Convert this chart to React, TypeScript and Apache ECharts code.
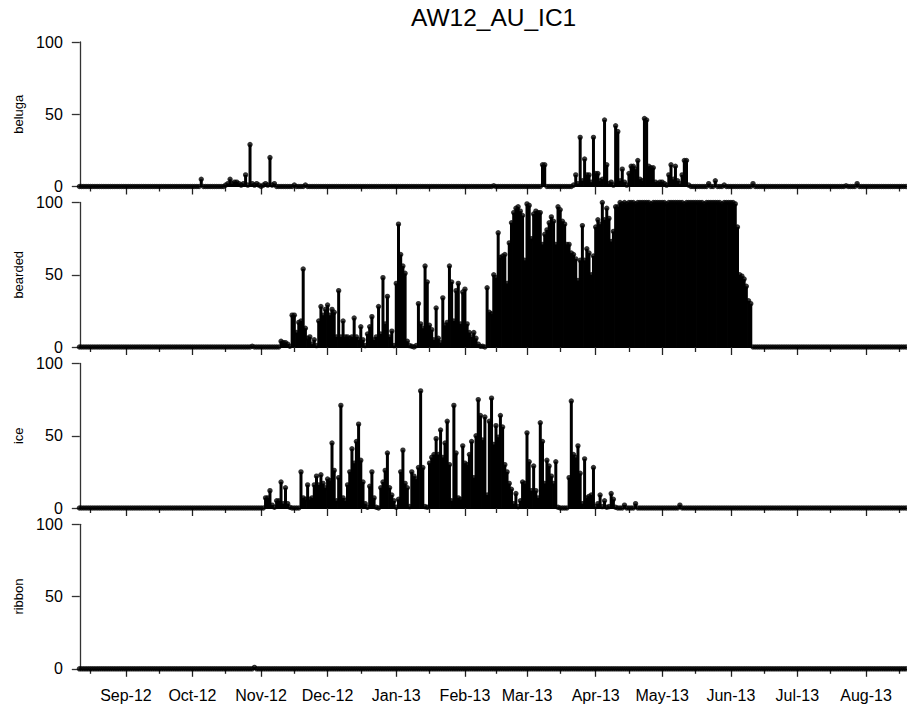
import React, { useEffect, useRef } from "react";
import * as echarts from "echarts";

const TITLE = "AW12_AU_IC1";
const SPECIES = ["beluga", "bearded", "ice", "ribbon"];
const RECORD_START = "2012-08-11";
const RECORD_END = "2013-08-19";
const Y_TICKS = [0, 50, 100];
const MONTH_ABBR = ["Jan", "Feb", "Mar", "Apr", "May", "Jun", "Jul", "Aug", "Sep", "Oct", "Nov", "Dec"];

// Daily detection values (% of day). Each window: start date + consecutive daily values.
// Days outside the windows are 0 (recorded, no detection).
const belugaFall = {
  start: "2012-10-05",
  values: [5, 0, 0, 0, 0, 0, 0, 0, 0, 0, 0, 1, 2, 5, 2, 3, 3, 2, 1, 2, 8, 1, 29, 2, 1, 2, 1, 0, 1, 2, 1, 20, 1, 2, 0, 0, 0, 0, 0, 0, 0, 0, 1, 0, 0, 0, 0, 1],
};
const belugaSpring = {
  start: "2013-03-08",
  values: [15, 15, 0, 0, 0, 0, 0, 0, 0, 0, 0, 0, 0, 0, 1, 8, 2, 34, 4, 19, 8, 8, 3, 34, 9, 9, 4, 5, 46, 15, 2, 3, 1, 42, 38, 4, 12, 3, 1, 9, 14, 14, 12, 18, 5, 4, 47, 46, 14, 13, 13, 3, 2, 3, 3, 2, 1, 8, 15, 5, 14, 4, 2, 8, 18, 18, 1, 0, 0, 0, 0, 0, 0, 0, 0, 2, 0, 0, 4, 0, 0, 0, 1],
};
const belugaOther = [
  { start: "2013-02-14", values: [0.5] },
  { start: "2013-06-11", values: [2] },
  { start: "2013-07-23", values: [0.5] },
  { start: "2013-07-28", values: [2] },
];

const beardedEarly = { start: "2012-10-28", values: [0.5] };
const beardedSeason = {
  start: "2012-11-10",
  values: [
    4, 3, 3, 2, 0.5, 22, 22, 10, 17, 18, 54, 13, 6, 7, 2, 5, 1, 18, 28, 22, 26, 29, 22, 26, 24, 7, 39, 7, 18, 7,
    7, 6, 7, 20, 7, 5, 14, 5, 1, 9, 14, 21, 5, 7, 28, 9, 48, 16, 35, 7, 11, 1, 44, 85, 64, 56, 51, 4, 1, 0.5,
    0, 1, 30, 16, 13, 56, 45, 15, 12, 5, 27, 6, 3, 34, 15, 17, 56, 45, 18, 39, 44, 16, 38, 40, 16, 10, 7, 10, 6, 2,
    0.5, 0.5, 0,
    41, 24, 23, 50, 48, 79, 62, 63, 64, 44, 72, 86, 93, 96, 97, 94, 91, 60, 99, 98, 75, 92, 94, 93, 93, 71, 78, 81, 86, 90,
    87, 71, 97, 95, 87, 85, 71, 71, 65, 64, 61, 46, 60, 84, 60, 68, 65, 50, 63, 83, 88, 85, 100, 88, 96, 89, 73, 80, 97, 97,
    100, 99,
    100, 99, 100, 100, 100, 99, 100, 100, 100, 100, 100, 100, 99, 100, 100, 100, 100, 100, 100, 99,
    100, 100, 100, 100, 100, 100, 100, 99, 100, 100, 100, 100, 100, 100, 100, 100, 99, 100, 100, 100,
    100, 100, 100, 100, 99, 100, 100, 100, 100, 100,
    99, 83, 50, 49, 47, 42, 32, 30,
  ],
};

const iceSeason = {
  start: "2012-11-03",
  values: [
    7, 7, 12, 2, 0.5, 5, 5, 18, 3, 14, 3, 0.5, 0, 0, 0, 0, 25, 7, 6, 16, 6, 7, 16, 22, 16, 23, 17, 14, 20, 19,
    45, 26, 5, 21, 71, 7, 5, 16, 25, 41, 31, 46, 58, 33, 18, 3, 0.5, 15, 25, 7, 0.5, 0, 14, 18, 26, 38, 14, 9, 5, 0.5,
    6, 25, 40, 17, 14, 1, 25, 22, 20, 28, 81, 28, 1, 0.5, 31, 35, 37, 48, 37, 54, 35, 45, 60, 30, 5, 71, 38, 7, 6, 43,
    31, 30, 37, 46, 21, 50, 75, 64, 47, 63, 9, 60, 76, 44, 57, 49, 64, 56, 30, 25, 17, 13, 3, 10, 1, 5, 18, 17, 52, 32,
    12, 29, 12, 7, 59, 46, 17, 33, 29, 22, 17, 32, 0.5, 0, 0, 0, 0, 21, 74, 37, 35, 43, 24, 3, 34, 7, 8, 9, 28, 1,
    3, 9, 1, 5, 0.5, 1, 10, 6, 0.5, 0, 0, 0, 2, 0, 0, 0, 0, 3,
  ],
};
const iceOther = [{ start: "2013-05-09", values: [2] }];

const ribbonDetections = [{ start: "2012-10-29", values: [1] }];

const SPECIES_WINDOWS = [
  [belugaFall, belugaSpring, ...belugaOther],
  [beardedEarly, beardedSeason],
  [iceSeason, ...iceOther],
  ribbonDetections,
];

const FONT = "'Liberation Sans', Arial, Helvetica, sans-serif";
const STEM_WIDTH = 3.0;

function addDays(iso: string, n: number): string {
  const t = Date.UTC(+iso.slice(0, 4), +iso.slice(5, 7) - 1, +iso.slice(8, 10)) + n * 86400000;
  return new Date(t).toISOString().slice(0, 10);
}

const days: string[] = [];
for (let d = RECORD_START; d <= RECORD_END; d = addDays(d, 1)) days.push(d);

function daily(windows: { start: string; values: number[] }[]): number[] {
  const m = new Map<string, number>();
  windows.forEach((w) => w.values.forEach((v, i) => m.set(addDays(w.start, i), v)));
  return days.map((d) => m.get(d) ?? 0);
}

const isMonthStart = (_i: number, v: string) => v.slice(8, 10) === "01";
const isMidMonth = (_i: number, v: string) => {
  const mon = v.slice(5, 7);
  const day = v.slice(8, 10);
  return mon === "02" ? day === "15" : day === "16";
};
const monthLabel = (v: string) => MONTH_ABBR[+v.slice(5, 7) - 1] + "-" + v.slice(2, 4);

function stemItem(_params: any, api: any) {
  const v = api.value(1);
  if (!v) return null;
  const base = api.coord([api.value(0), 0]);
  const top = api.coord([api.value(0), v]);
  return {
    type: "rect",
    shape: { x: base[0] - STEM_WIDTH / 2, y: top[1], width: STEM_WIDTH, height: base[1] - top[1] },
    style: { fill: "#000" },
  };
}

function buildOption() {
  const tops = [42, 202.5, 363.5, 524.3];
  const H = 144.5;
  const LEFT = 78.3;
  const WIDTH = 829.4;
  const grid: any[] = [];
  const xAxis: any[] = [];
  const yAxis: any[] = [];
  const series: any[] = [];
  SPECIES.forEach((name, i) => {
    grid.push({ left: LEFT, top: tops[i], width: WIDTH, height: H, containLabel: false });
    xAxis.push({
      type: "category",
      gridIndex: i,
      data: days,
      position: "bottom",
      boundaryGap: true,
      axisLine: { show: true, lineStyle: { color: "#000", width: 1 } },
      axisTick: { show: true, alignWithLabel: true, interval: isMonthStart, length: 8, lineStyle: { color: "#222", width: 1.3 } },
      axisLabel: {
        show: i === SPECIES.length - 1,
        interval: isMonthStart,
        formatter: monthLabel,
        fontSize: 16,
        color: "#000",
        fontFamily: FONT,
        margin: 19,
      },
      splitLine: { show: false },
    });
    xAxis.push({
      type: "category",
      gridIndex: i,
      data: days,
      position: "bottom",
      boundaryGap: true,
      axisLine: { show: false },
      axisTick: { show: true, alignWithLabel: true, interval: isMidMonth, length: 5, lineStyle: { color: "#222", width: 1.3 } },
      axisLabel: { show: false },
      splitLine: { show: false },
    });
    yAxis.push({
      type: "value",
      gridIndex: i,
      min: Y_TICKS[0],
      max: Y_TICKS[Y_TICKS.length - 1],
      interval: Y_TICKS[1] - Y_TICKS[0],
      offset: -1.5,
      name,
      nameLocation: "middle",
      nameGap: 49,
      nameTextStyle: { fontSize: 13, color: "#000", fontFamily: FONT, lineHeight: 13 },
      axisLine: { show: true, lineStyle: { color: "#333", width: 1.3 } },
      axisTick: { show: true, length: 8, lineStyle: { color: "#333", width: 1.3 } },
      axisLabel: { fontSize: 16, lineHeight: 12, color: "#000", fontFamily: FONT, margin: 17 },
      splitLine: { show: false },
    });
    const vals = daily(SPECIES_WINDOWS[i] as any);
    series.push({
      type: "custom",
      xAxisIndex: 2 * i,
      yAxisIndex: i,
      data: vals.map((v, k) => [k, v]),
      encode: { x: 0, y: 1 },
      renderItem: stemItem,
      silent: true,
    });
    series.push({
      type: "scatter",
      xAxisIndex: 2 * i,
      yAxisIndex: i,
      data: vals,
      symbol: "circle",
      symbolSize: 5.4,
      itemStyle: { color: "#000" },
      silent: true,
      clip: false,
    });
  });
  return {
    animation: false,
    backgroundColor: "#fff",
    title: {
      text: TITLE,
      left: 411,
      top: 5,
      padding: 0,
      textStyle: { fontSize: 24.5, fontWeight: "normal", color: "#000", fontFamily: FONT },
    },
    grid,
    xAxis,
    yAxis,
    series,
  };
}

export default function App() {
  const ref = useRef<HTMLDivElement>(null);
  useEffect(() => {
    const chart = echarts.init(ref.current!, null, { renderer: "svg" });
    chart.setOption(buildOption() as any);
    return () => chart.dispose();
  }, []);
  return (
    <div
      ref={ref}
      style={{ position: "absolute", left: 0, top: 0, width: 907, height: 706, background: "#fff" }}
    />
  );
}
